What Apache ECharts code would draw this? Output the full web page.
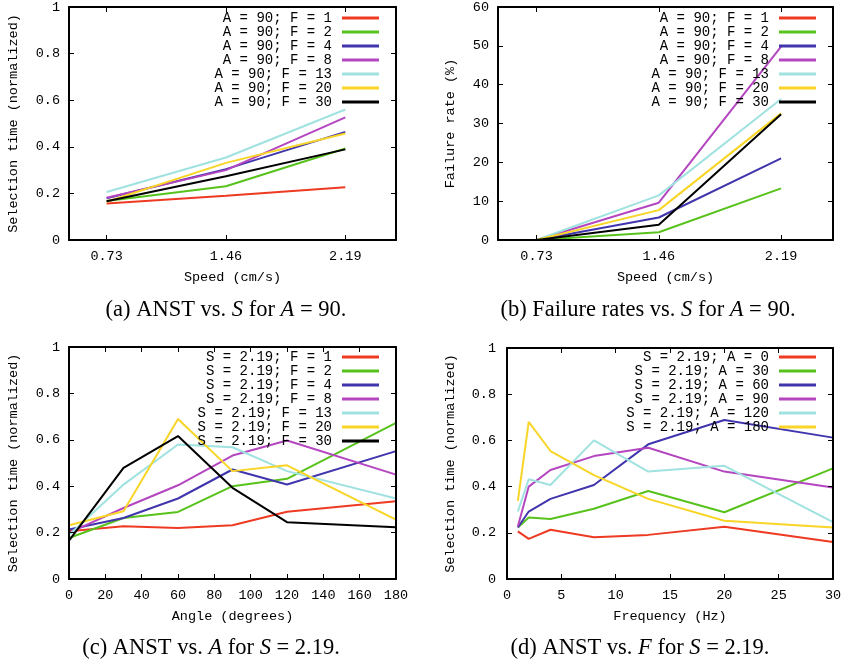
<!DOCTYPE html>
<html><head><meta charset="utf-8">
<script src="https://cdn.jsdelivr.net/npm/echarts@6/dist/echarts.min.js"></script>
<style>html,body{margin:0;padding:0;background:#fff}#c{width:847px;height:666px}</style>
</head><body><div id="c"></div>
<script>
// ---- data ----
const speeds = [0.73, 1.46, 2.19];
const speedTicks = [0.73, 1.46, 2.19];
const angles = [0, 30, 60, 90, 120, 180];
const freqs = [1, 2, 4, 8, 13, 20, 30];

const namesAB = ['A = 90; F = 1', 'A = 90; F = 2', 'A = 90; F = 4', 'A = 90; F = 8', 'A = 90; F = 13', 'A = 90; F = 20', 'A = 90; F = 30'];
const namesC = ['S = 2.19; F = 1', 'S = 2.19; F = 2', 'S = 2.19; F = 4', 'S = 2.19; F = 8', 'S = 2.19; F = 13', 'S = 2.19; F = 20', 'S = 2.19; F = 30'];
const namesD = ['S = 2.19; A = 0', 'S = 2.19; A = 30', 'S = 2.19; A = 60', 'S = 2.19; A = 90', 'S = 2.19; A = 120', 'S = 2.19; A = 180'];

// (a) ANST vs speed, rows = F 1,2,4,8,13,20,30
const anstVsSpeed = [
  [0.157, 0.190, 0.226],
  [0.167, 0.231, 0.393],
  [0.179, 0.304, 0.464],
  [0.181, 0.300, 0.526],
  [0.206, 0.354, 0.560],
  [0.164, 0.331, 0.457],
  [0.166, 0.274, 0.389]
];
// (b) failure rate vs speed (%)
const failVsSpeed = [
  [0, 0, 0],
  [0, 2.0, 13.3],
  [0, 5.8, 21.0],
  [0, 9.6, 49.8],
  [0, 11.5, 36.3],
  [0, 7.7, 32.6],
  [0, 3.9, 32.4]
];
// (c) ANST vs angle
const anstVsAngle = [
  [0.206, 0.227, 0.220, 0.232, 0.290, 0.335],
  [0.177, 0.263, 0.289, 0.400, 0.432, 0.673],
  [0.213, 0.263, 0.347, 0.472, 0.407, 0.551],
  [0.199, 0.306, 0.404, 0.532, 0.597, 0.450],
  [0.190, 0.407, 0.580, 0.568, 0.465, 0.347],
  [0.232, 0.292, 0.690, 0.465, 0.490, 0.256],
  [0.165, 0.479, 0.616, 0.393, 0.245, 0.223]
];
// (d) ANST vs frequency, rows = A 0,30,60,90,120,180
const anstVsFreq = [
  [0.206, 0.174, 0.213, 0.181, 0.191, 0.226, 0.160],
  [0.223, 0.266, 0.260, 0.304, 0.381, 0.289, 0.479],
  [0.223, 0.292, 0.347, 0.407, 0.583, 0.688, 0.612],
  [0.227, 0.400, 0.472, 0.532, 0.568, 0.465, 0.396],
  [0.292, 0.432, 0.407, 0.600, 0.465, 0.490, 0.246],
  [0.338, 0.680, 0.554, 0.450, 0.347, 0.252, 0.223]
];

const colors = ['#ee3a22', '#58c21c', '#4035ad', '#b446c0', '#9fe2df', '#f8d526', '#000000'];
const captions = [
  '(a) ANST vs. {i|S} for {i|A} = 90.',
  '(b) Failure rates vs. {i|S} for {i|A} = 90.',
  '(c) ANST vs. {i|A} for {i|S} = 2.19.',
  '(d) ANST vs. {i|F} for {i|S} = 2.19.'
];

// ---- layout ----
const MONO = 'Liberation Mono';
const SERIF = 'Liberation Serif';
const grids = [
  {left: 69, top: 7, width: 327, height: 233},
  {left: 498, top: 7, width: 335, height: 233},
  {left: 69, top: 347, width: 327, height: 232},
  {left: 507, top: 348, width: 326, height: 231}
];
const xCfg = [
  {min: 0.5, max: 2.5, custom: speedTicks, name: 'Speed (cm/s)'},
  {min: 0.5, max: 2.5, custom: speedTicks, name: 'Speed (cm/s)'},
  {min: 0, max: 180, interval: 20, name: 'Angle (degrees)'},
  {min: 0, max: 30, interval: 5, name: 'Frequency (Hz)'}
];
const yCfg = [
  {min: 0, max: 1, interval: 0.2, name: 'Selection time (normalized)', gap: 49},
  {min: 0, max: 60, interval: 10, name: 'Failure rate (%)', gap: 41},
  {min: 0, max: 1, interval: 0.2, name: 'Selection time (normalized)', gap: 49},
  {min: 0, max: 1, interval: 0.2, name: 'Selection time (normalized)', gap: 50}
];
const legendPos = [
  {right: 847 - 379, top: 11},
  {right: 847 - 816, top: 11},
  {right: 847 - 379, top: 350},
  {right: 847 - 816, top: 350}
];
const captionPos = [
  {x: 226, y: 299}, {x: 648, y: 299}, {x: 211, y: 637}, {x: 640, y: 637}
];

const axisLine = {show: true, onZero: false, lineStyle: {color: '#000', width: 2}};
const tick = {show: true, inside: true, length: 5, lineStyle: {color: '#000', width: 1}};
const lab = {color: '#000', fontFamily: MONO, fontSize: 13.5};

const xAxis = [], yAxis = [], series = [], legend = [], title = [];
grids.forEach((g, i) => {
  const xc = xCfg[i], yc = yCfg[i];
  const xBase = {gridIndex: i, type: 'value', min: xc.min, max: xc.max, z: 5, splitLine: {show: false}};
  if (xc.interval) xBase.interval = xc.interval;
  const xTick = Object.assign({}, tick);
  const xLab = Object.assign({margin: 9}, lab);
  if (xc.custom) { xTick.customValues = xc.custom; xLab.customValues = xc.custom; }
  xAxis.push(Object.assign({}, xBase, {
    position: 'bottom', axisLine, axisTick: xTick, axisLabel: xLab,
    name: xc.name, nameLocation: 'middle', nameGap: 30,
    nameTextStyle: {color: '#000', fontFamily: MONO, fontSize: 13.5}
  }));
  xAxis.push(Object.assign({}, xBase, {
    position: 'top', axisLine, axisTick: xTick, axisLabel: {show: false}
  }));
  const yBase = {gridIndex: i, type: 'value', min: yc.min, max: yc.max, interval: yc.interval, z: 5, splitLine: {show: false}};
  yAxis.push(Object.assign({}, yBase, {
    position: 'left', axisLine, axisTick: tick, axisLabel: Object.assign({margin: i === 3 ? 11 : 9}, lab),
    name: yc.name, nameLocation: 'middle', nameGap: yc.gap, nameRotate: 90,
    nameTextStyle: {color: '#000', fontFamily: MONO, fontSize: 13.5}
  }));
  yAxis.push(Object.assign({}, yBase, {
    position: 'right', axisLine, axisTick: tick, axisLabel: {show: false}
  }));
  title.push({
    text: captions[i], left: captionPos[i].x, top: captionPos[i].y, textAlign: 'center', padding: 0,
    textStyle: {fontFamily: SERIF, fontSize: 22.5, fontWeight: 'normal', color: '#000',
      rich: {i: {fontFamily: SERIF, fontSize: 22.5, fontStyle: 'italic', color: '#000'}}}
  });
});

function addSeries(panel, names, xs, rows) {
  rows.forEach((row, k) => {
    series.push({
      type: 'line', name: names[k], xAxisIndex: panel * 2, yAxisIndex: panel * 2,
      data: xs.map((x, j) => [x, row[j]]),
      showSymbol: false, symbol: 'none', color: colors[k],
      lineStyle: {width: 2, color: colors[k]}, animation: false, z: 2
    });
  });
}
addSeries(0, namesAB, speeds, anstVsSpeed);
addSeries(1, namesAB, speeds, failVsSpeed);
addSeries(2, namesC, angles, anstVsAngle);
addSeries(3, namesD, freqs, anstVsFreq);

// legend sample: 5px blank then a 37px line (extra gap between text and line, as in gnuplot keys)
const keyIcon = 'path://M0,0L0,0M5,0L42,0L42,3L5,3Z';
const legendNames = [namesAB, namesAB, namesC, namesD];
legendNames.forEach((names, i) => {
  legend.push(Object.assign({
    orient: 'vertical', align: 'right', padding: 0, itemGap: 0,
    itemWidth: 42, itemHeight: 3, icon: keyIcon, selectedMode: false,
    data: names,
    textStyle: {color: '#000', fontFamily: MONO, fontSize: 14, lineHeight: 14}
  }, legendPos[i]));
});

const chart = echarts.init(document.getElementById('c'), null, {renderer: 'canvas'});
chart.setOption({animation: false, backgroundColor: '#fff', grid: grids, xAxis, yAxis, series, legend, title});
</script></body></html>
